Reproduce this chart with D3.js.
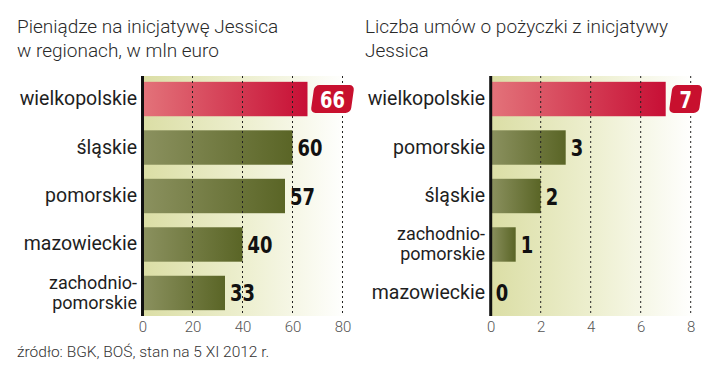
<!DOCTYPE html>
<html>
<head>
<meta charset="utf-8">
<script src="https://cdn.jsdelivr.net/npm/d3@7"></script>
<style>
    body { margin: 0; background: #fff; }
    svg { display: block; }
    .title { font-family: Roboto, sans-serif; font-weight: 300; font-size: 19px; fill: #2a2a2a; }
    .cat { font-family: Roboto, sans-serif; font-size: 19.5px; fill: #1e1e1e; }
    .cat.wrap { font-size: 18px; }
    .val { font-family: "DejaVu Sans", sans-serif; font-weight: bold; font-size: 23px; fill: #111; }
    .tick text { font-family: Roboto, sans-serif; font-weight: 300; font-size: 15px; fill: #555; }
    .source { font-family: Roboto, sans-serif; font-weight: 300; font-size: 15.5px; fill: #333; }
</style>
</head>
<body>
<div id="chart"></div>
<script>
// Left panel: money per region (mln euro)
const moneyRegions = ['wielkopolskie', 'śląskie', 'pomorskie', 'mazowieckie', 'zachodnio-pomorskie'];
const moneyValues = [66, 60, 57, 40, 33];
const moneyTicks = [0, 20, 40, 60, 80];
const moneyTitle = ['Pieniądze na inicjatywę Jessica', 'w regionach, w mln euro'];

// Right panel: number of loan contracts
const loanRegions = ['wielkopolskie', 'pomorskie', 'śląskie', 'zachodnio-pomorskie', 'mazowieckie'];
const loanValues = [7, 3, 2, 1, 0];
const loanTicks = [0, 2, 4, 6, 8];
const loanTitle = ['Liczba umów o pożyczki z inicjatywy', 'Jessica'];

const sourceText = 'źródło: BGK, BOŚ, stan na 5 XI 2012 r.';

const width = 720, height = 373;

const svg = d3.select('#chart').append('svg')
    .attr('width', width)
    .attr('height', height);

// Gradients
const defs = svg.append('defs');

function linearGrad(id, stops) {
    const g = defs.append('linearGradient').attr('id', id)
        .attr('x1', '0%').attr('x2', '100%').attr('y1', '0%').attr('y2', '0%');
    stops.forEach(s => g.append('stop').attr('offset', s[0]).attr('stop-color', s[1]));
}

linearGrad('bg', [['0%', '#dbdea5'], ['50%', '#edefcf'], ['100%', '#ffffff']]);
linearGrad('green', [['0%', '#8b915f'], ['100%', '#5a6526']]);
linearGrad('red', [['0%', '#e3737a'], ['100%', '#c70f35']]);

// condensed look for the bold numbers
const squeeze = 0.78;

function valueText(x, y, label, anchor) {
    return svg.append('text')
        .attr('class', 'val')
        .attr('text-anchor', anchor)
        .attr('transform', `translate(${x}, ${y}) scale(${squeeze}, 1)`)
        .text(label);
}

function drawPanel(opts) {
    const { regions, values, ticks, title, x0, x1, titleX, labelX } = opts;
    const top = 76, bottom = 316;

    const x = d3.scaleLinear().domain([0, ticks[ticks.length - 1]]).range([x0, x1]);
    const y = d3.scaleBand().domain(regions).range([top, bottom]).paddingInner(0.29).paddingOuter(0.12);

    // Title
    svg.append('text')
        .attr('class', 'title')
        .attr('x', titleX)
        .selectAll('tspan')
        .data(title)
        .join('tspan')
        .attr('x', titleX)
        .attr('y', (d, i) => 33 + i * 24)
        .text(d => d);

    // Background
    svg.append('rect')
        .attr('x', x0)
        .attr('y', top)
        .attr('width', x1 - x0 + 4)
        .attr('height', bottom - top)
        .attr('fill', 'url(#bg)');

    // Bars
    svg.append('g').selectAll('rect')
        .data(values)
        .join('rect')
        .attr('x', x0)
        .attr('y', (d, i) => y(regions[i]))
        .attr('width', d => x(d) - x0)
        .attr('height', y.bandwidth())
        .attr('fill', (d, i) => i === 0 ? 'url(#red)' : 'url(#green)');

    // Dotted gridlines over the bars
    svg.append('g').selectAll('line')
        .data(ticks.slice(1))
        .join('line')
        .attr('x1', d => x(d)).attr('x2', d => x(d))
        .attr('y1', top).attr('y2', bottom)
        .attr('stroke', '#222')
        .attr('stroke-width', 1)
        .attr('stroke-dasharray', '2,3');

    // Axis line
    svg.append('line')
        .attr('x1', x0).attr('x2', x0)
        .attr('y1', top).attr('y2', bottom)
        .attr('stroke', '#111')
        .attr('stroke-width', 3);

    // Bottom axis labels
    const xAxis = d3.axisBottom(x).tickValues(ticks).tickSize(0).tickPadding(4);
    svg.append('g')
        .attr('transform', `translate(0, ${bottom + 1})`)
        .call(xAxis)
        .call(g => g.select('.domain').remove());

    // Category labels (hyphenated names wrap onto two lines)
    regions.forEach(d => {
        const cy = y(d) + y.bandwidth() / 2;
        const parts = d.indexOf('-') > 0 ? [d.split('-')[0] + '-', d.split('-')[1]] : [d];
        parts.forEach((p, i) => {
            const dy = parts.length > 1 ? (i === 0 ? -4 : 16) : 6;
            svg.append('text')
                .attr('class', parts.length > 1 ? 'cat wrap' : 'cat')
                .attr('text-anchor', 'end')
                .attr('x', labelX)
                .attr('y', cy + dy)
                .text(p);
        });
    });

    // Value labels
    values.forEach((v, i) => {
        const cy = y(regions[i]) + y.bandwidth() / 2;
        const bx = x(v) + 5;
        if (i === 0) {
            const label = String(v);
            const w = label.length > 1 ? 40 : 30;
            const h = 28;
            svg.append('rect')
                .attr('x', bx)
                .attr('y', cy - h / 2)
                .attr('width', w)
                .attr('height', h)
                .attr('rx', 5)
                .attr('fill', '#c8102e')
                .attr('transform', `translate(${bx + w / 2}, ${cy}) skewX(-8) translate(${-(bx + w / 2)}, ${-cy})`);
            valueText(bx + w / 2, cy + 8.5, label, 'middle').style('fill', '#fff');
        } else {
            valueText(bx, cy + 8.5, v, 'start');
        }
    });
}

drawPanel({
    regions: moneyRegions, values: moneyValues, ticks: moneyTicks, title: moneyTitle,
    x0: 142.5, x1: 342.5, titleX: 17, labelX: 137
});

drawPanel({
    regions: loanRegions, values: loanValues, ticks: loanTicks, title: loanTitle,
    x0: 490.7, x1: 690.7, titleX: 365, labelX: 485
});

svg.append('text')
    .attr('class', 'source')
    .attr('x', 17)
    .attr('y', 357)
    .text(sourceText);
</script>
</body>
</html>
